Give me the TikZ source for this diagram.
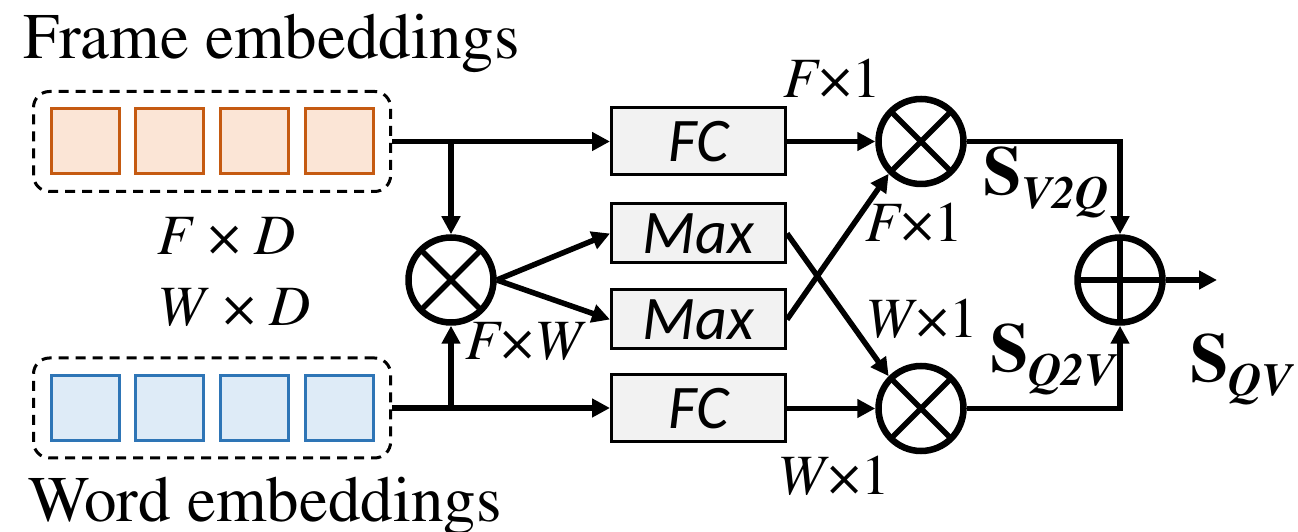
\documentclass[tikz,border=0pt]{standalone}
\usepackage[T1]{fontenc}
\usepackage{fontspec}
\newfontfamily\opfont{Carlito}
\usepackage{xcolor}
\usepackage{tikz}
\usetikzlibrary{arrows.meta}
\usetikzlibrary{positioning}
\usetikzlibrary{fit}

\definecolor{frameedge}{HTML}{C55A11}
\definecolor{framefill}{HTML}{FBE5D6}
\definecolor{wordedge}{HTML}{2E75B6}
\definecolor{wordfill}{HTML}{DEEBF7}
\definecolor{opfill}{HTML}{F2F2F2}

\newcommand{\timesat}[1]{\fontencoding{T1}\fontfamily{ptm}\fontsize{#1}{#1}\selectfont}
\newcommand{\scoresym}[1]{\textbf{S}\raisebox{-14pt}{\timesat{46}\bfseries\itshape #1}}

\begin{document}
\begin{tikzpicture}[
  x=1pt, y=1pt,
  framecell/.style={
    draw=frameedge,
    fill=framefill,
    line width=3pt,
    minimum width=68pt,
    minimum height=65pt,
    inner sep=0pt
  },
  wordcell/.style={
    framecell,
    draw=wordedge,
    fill=wordfill
  },
  embbox/.style={
    draw,
    dash pattern=on 10pt off 7pt,
    line width=3pt,
    rounded corners=16pt,
    inner sep=16pt
  },
  opbox/.style={
    draw,
    fill=opfill,
    line width=3pt,
    minimum width=174pt,
    inner sep=0pt,
    font=\opfont\itshape\fontsize{62}{62}\selectfont
  },
  fcbox/.style={opbox, minimum height=67pt},
  maxbox/.style={opbox, minimum height=59pt},
  mulop/.style={
    circle,
    draw,
    line width=6.5pt,
    minimum size=85pt,
    inner sep=0pt,
    path picture={
      \draw[line width=5.5pt]
        (path picture bounding box.north west) -- (path picture bounding box.south east)
        (path picture bounding box.north east) -- (path picture bounding box.south west);
    }
  },
  addop/.style={
    circle,
    draw,
    line width=6.5pt,
    minimum size=85pt,
    inner sep=0pt,
    path picture={
      \draw[line width=5.5pt]
        (path picture bounding box.north) -- (path picture bounding box.south)
        (path picture bounding box.west) -- (path picture bounding box.east);
    }
  },
  titlelabel/.style={anchor=base west, inner sep=0pt, font=\timesat{65}},
  dimlabel/.style={anchor=base west, inner sep=0pt, font=\timesat{57}},
  scorelabel/.style={anchor=base west, inner sep=0pt, font=\timesat{69}},
  arrow/.style={-{Triangle[length=18pt, width=18pt]}, line width=5.5pt}
]
\useasboundingbox (0,0) rectangle (1298,532);

% embeddings
\node[titlelabel] (frametitle) at (23,473) {Frame embeddings};
\foreach \i in {0,...,3}
  \node[framecell] (f\i) at (85+84.7*\i,390.5) {};
\node[embbox, fit=(f0)(f3)] (frames) {};

\foreach \i in {0,...,3}
  \node[wordcell] (w\i) at (85+84.7*\i,124) {};
\node[embbox, fit=(w0)(w3)] (words) {};
\node[titlelabel] (wordtitle) at (28,10) {Word embeddings};

\node[dimlabel] (fd) at (157,277) {\textit{F} \texttimes{} \textit{D}};
\node[dimlabel] (wd) at (157,206) {\textit{W} \texttimes{} \textit{D}};

% operators
\node[mulop] (mulL) at (451,252) {};
\node[fcbox] (fcV) at (698.5,390.5) {FC};
\node[maxbox, below=26pt of fcV] (maxV) {Max};
\node[maxbox, below=24pt of maxV] (maxW) {Max};
\node[fcbox, below=23pt of maxW] (fcW) {FC};

\node[mulop] (mulV) at (921,390.5) {};
\node[mulop] (mulW) at (921,123.5) {};
\node[addop] (addQV) at (1120,252) {};
\coordinate (out) at (1217,252);

\coordinate (splitV) at (mulL.north |- frames.east);
\coordinate (splitW) at (mulL.south |- words.east);

\draw[arrow] (frames.east) -- (fcV.west |- frames.east);
\draw[arrow] (splitV) -- (mulL.north);
\draw[arrow] (words.east) -- (fcW.west |- words.east);
\draw[arrow] (splitW) -- (mulL.south);

\draw[arrow] (mulL.east) -- (maxV.west);
\draw[arrow] (mulL.east) -- (maxW.west);

\draw[arrow] (fcV.east) -- (mulV.west);
\draw[arrow] (fcW.east) -- (mulW.west);
\draw[arrow] (maxV.east) -- (mulW.north west);
\draw[arrow] (maxW.east) -- (mulV.south west);

\draw[arrow] (mulV.east) -| (addQV.north);
\draw[arrow] (mulW.east) -| (addQV.south);
\draw[arrow] (addQV.east) -- (out);

% sizes and scores
\node[dimlabel] (fw) at (465,172) {\textit{F}\texttimes\textit{W}};
\node[dimlabel] (f1top) at (783,434) {\textit{F}\texttimes 1};
\node[dimlabel] (f1mid) at (865,290) {\textit{F}\texttimes 1};
\node[dimlabel] (w1mid) at (865,194) {\textit{W}\texttimes 1};
\node[dimlabel] (w1bot) at (777,37) {\textit{W}\texttimes 1};

\node[scorelabel] (sV2Q) at (983,337) {\scoresym{V2Q}};
\node[scorelabel] (sQ2V) at (990,160) {\scoresym{Q2V}};
\node[scorelabel] (sQV) at (1190,150) {\scoresym{QV}};

\end{tikzpicture}
\end{document}
